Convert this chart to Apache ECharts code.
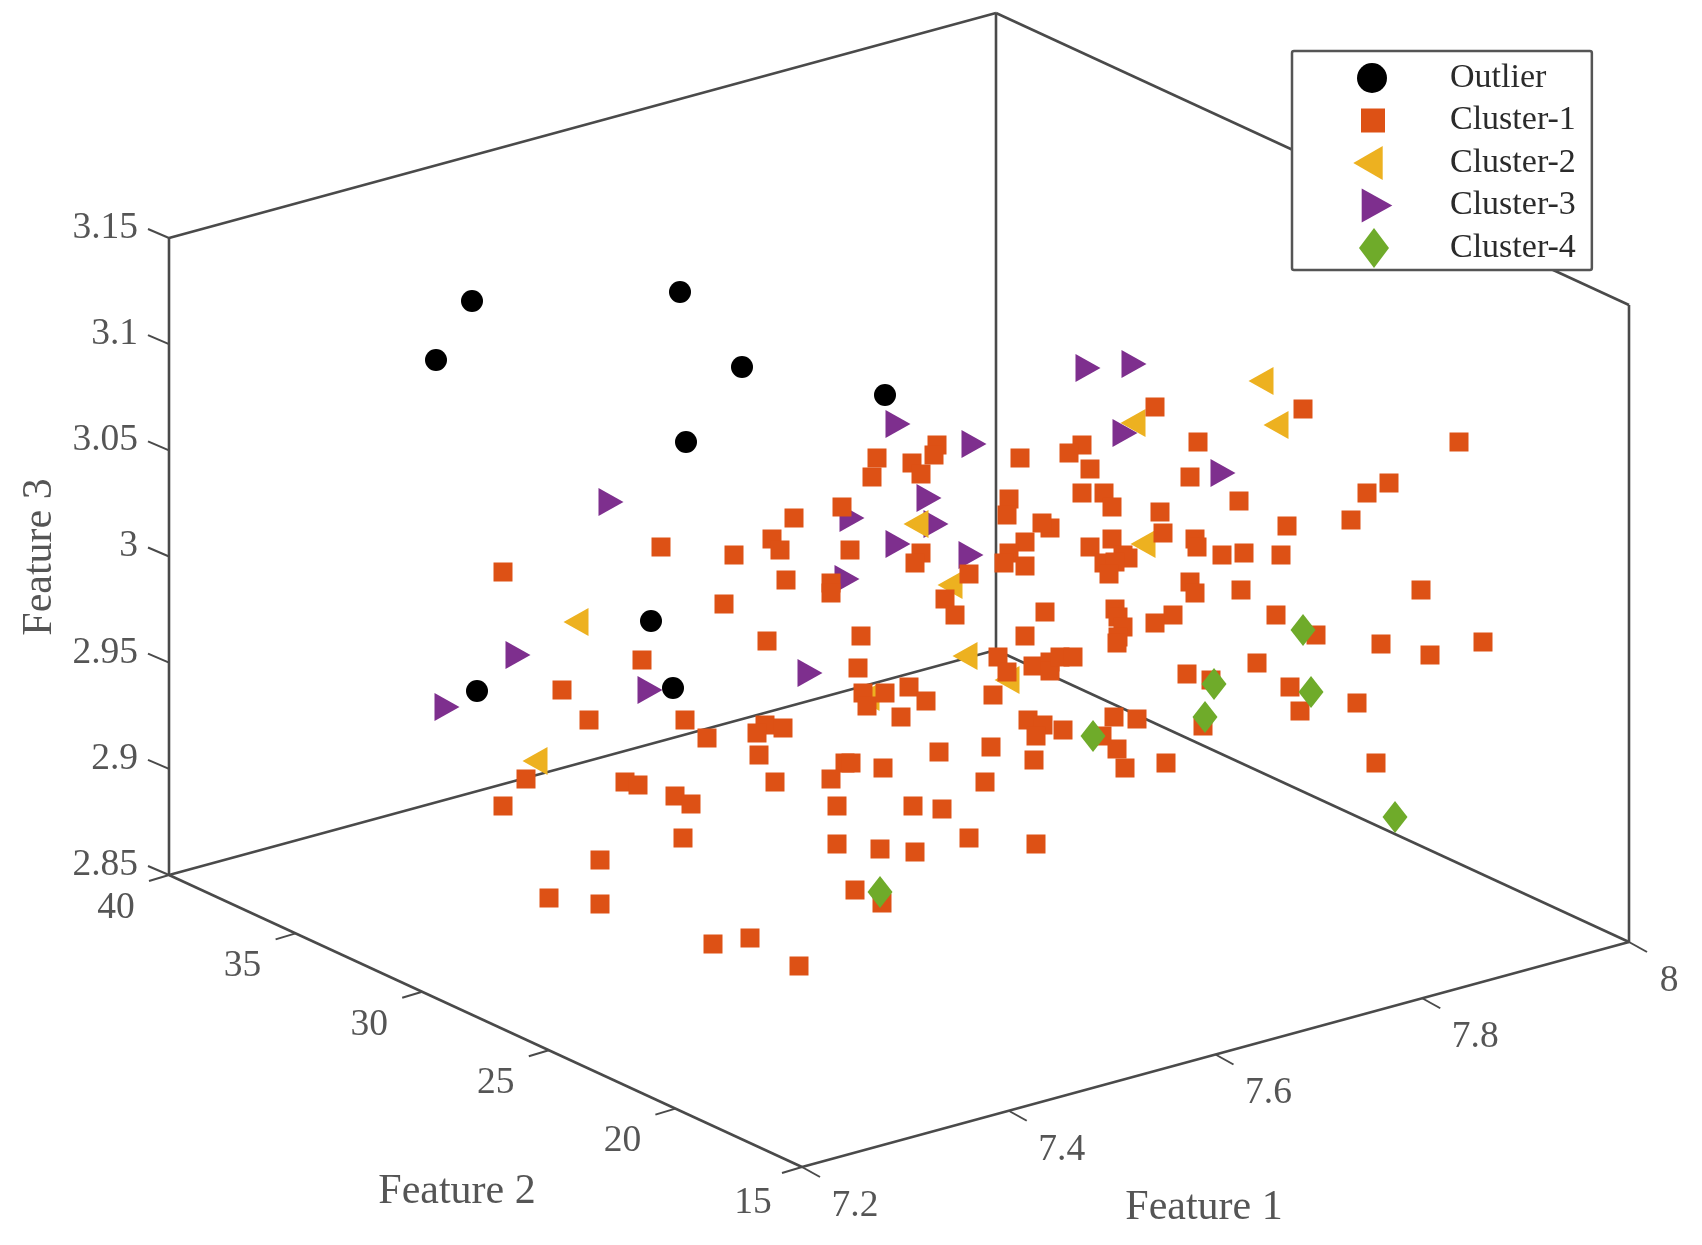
<!DOCTYPE html>
<html>
<head>
<meta charset="utf-8">
<title>3D cluster scatter</title>
<style>html,body{margin:0;padding:0;background:#fff}#chart{width:1702px;height:1245px}</style>
<script src="https://cdn.jsdelivr.net/npm/echarts@6/dist/echarts.min.js"></script>
</head>
<body>
<div id="chart"></div>
<script>
// The reference is an orthographic 3D view. Values below are the points' projected
// plane readings [horizontal, vertical], since depth cannot be recovered from a flat picture.
var outlierPoints = [[472,301],[680,292],[436,360],[742,367],[686,442],[885,395],[651,621],[477,691],[673,688]];
var cluster1Points = [
 [1155,407],[1303,409],[1459,442],[1198,442],[1389,483],[1367,493],[1190,477],[1239,501],[1351,520],[1287,526],
 [1020,458],[1082,445],[1069,453],[1090,469],[1082,493],[1104,493],[1112,507],[1160,512],[1163,533],[1050,528],
 [1042,523],[1112,539],[1090,547],[1195,539],[1197,547],[1222,555],[1244,553],[1281,555],[1123,555],[1128,558],
 [1104,563],[1115,562],[1109,574],[1190,582],[1195,593],[1241,590],[1276,615],[1173,615],[1155,623],[1115,609],
 [1118,617],[1123,627],[1118,637],[1045,612],[1316,635],[1421,590],[1381,644],[1430,655],[1483,642],[1257,663],
 [1187,674],[1211,680],[1290,687],[1300,711],[1357,703],[1203,726],[1376,763],
 [877,458],[872,477],[937,445],[934,455],[912,463],[921,474],[1009,499],[1007,515],[842,507],[794,518],[772,539],
 [780,550],[850,550],[921,553],[915,563],[786,580],[831,583],[831,593],[969,574],[945,599],[955,615],[1025,542],
 [1009,553],[1004,563],[1025,566],[767,641],[861,636],[1025,636],
 [858,668],[863,693],[867,706],[885,693],[909,687],[926,701],[901,717],[998,657],[1007,672],[993,695],[1033,666],
 [1050,662],[1050,671],[1060,657],[1073,657],[1117,643],[1028,720],[1043,725],[1036,736],[1063,730],[1114,717],
 [1137,719],[1102,736],[1117,749],[1125,768],[1166,763],
 [765,725],[783,728],[757,733],[759,755],[775,782],[845,763],[851,763],[831,779],[883,768],[939,752],[991,747],
 [1034,760],[985,782],[837,806],[913,806],[942,809],[837,844],[880,849],[915,852],[969,838],[1036,844],[855,890],[882,903],
 [661,547],[734,555],[503,572],[724,604],[642,660],[562,690],[589,720],[685,720],[707,738],[526,779],[503,806],
 [625,782],[638,785],[675,796],[691,804],[683,838],[600,860],[549,898],[600,904],[713,944],[750,938],[799,966]
];
var cluster2Points = [[1261,381],[1276,425],[1133,423],[916,524],[950,585],[1143,544],[576,622],[535,761],[965,656],[1007,680],[867,697]];
var cluster3Points = [[1088,368],[1134,364],[898,424],[974,444],[1125,433],[1223,473],[929,498],[852,518],[936,524],[898,544],[971,555],[847,579],[611,502],[518,655],[447,707],[650,690],[810,673]];
var cluster4Points = [[1303,630],[1214,684],[1311,692],[1205,717],[1093,736],[1395,817],[880,892]];

var feature1Ticks = [7.2,7.4,7.6,7.8,8];
var feature2Ticks = [40,35,30,25,20,15];
var feature3Ticks = [3.15,3.1,3.05,3,2.95,2.9,2.85];
var feature3TickText = ['3.15','3.1','3.05','3','2.95','2.9','2.85'];
var seriesNames = ['Outlier','Cluster-1','Cluster-2','Cluster-3','Cluster-4'];
var axisTitles = ['Feature 1','Feature 2','Feature 3'];

// ---- view ----
var F1 = [7.2,8], F2 = [15,40], F3 = [2.85,3.15];
function project(a,b,c){
  var u=(a-F1[0])/(F1[1]-F1[0]), v=(b-F2[0])/(F2[1]-F2[0]), w=(c-F3[0])/(F3[1]-F3[0]);
  return [802+827*u-633*v, 1167-225*u-292*v-637*w];
}
var INK='#4a4a4a', TEXT='#2b2b2b', SERIF='"Liberation Serif","Times New Roman",serif';
var frameEdges=[
 [[7.2,40,3.15],[8,40,3.15]],[[8,40,3.15],[8,15,3.15]],[[7.2,40,2.85],[7.2,40,3.15]],
 [[8,40,2.85],[8,40,3.15]],[[8,15,2.85],[8,15,3.15]],[[7.2,40,2.85],[8,40,2.85]],
 [[8,40,2.85],[8,15,2.85]],[[7.2,40,2.85],[7.2,15,2.85]],[[7.2,15,2.85],[8,15,2.85]]
];
function lineSeries(a,b,w){
  return {type:'line',silent:true,symbol:'none',z:1,animation:false,
    lineStyle:{color:INK,width:w},data:[a,b]};
}
var series=[];
frameEdges.forEach(function(e){series.push(lineSeries(project.apply(null,e[0]),project.apply(null,e[1]),2.6));});
function tickSet(values,toPoint,dx,dy){
  values.forEach(function(v){var p=toPoint(v);series.push(lineSeries(p,[p[0]+dx,p[1]+dy],2));});
}
tickSet(feature1Ticks,function(v){return project(v,15,2.85);},18,10);
tickSet(feature2Ticks,function(v){return project(7.2,v,2.85);},-20,6);
tickSet(feature3Ticks,function(v){return project(7.2,40,v);},-21,-9);

function textSeries(items,size,align,rotate){
  return {type:'scatter',silent:true,symbolSize:1,z:2,animation:false,itemStyle:{color:'rgba(0,0,0,0)'},
    data:items.map(function(t){return {value:t.p,label:{formatter:t.s}};}),
    label:{show:true,position:'inside',color:TEXT,fontFamily:SERIF,fontSize:size,align:align,verticalAlign:'middle',rotate:rotate||0}};
}
series.push(textSeries(feature1Ticks.map(function(v){var p=project(v,15,2.85);var dx=(v===8)?40:53;return {p:[p[0]+dx,p[1]+39],s:String(v)};}),37.5,'center'));
series.push(textSeries(feature2Ticks.map(function(v){var p=project(7.2,v,2.85);var dx=(v===15)?-49:-53;var dy=(v===15)?36:33;return {p:[p[0]+dx,p[1]+dy],s:String(v)};}),37.5,'center'));
series.push(textSeries(feature3Ticks.map(function(v,i){var p=project(7.2,40,v);return {p:[p[0]-31,p[1]-10],s:feature3TickText[i]};}),37.5,'right'));
series.push(textSeries([{p:[1204,1208],s:axisTitles[0]},{p:[457,1192],s:axisTitles[1]}],42,'center'));
series.push(textSeries([{p:[40,557],s:axisTitles[2]}],42,'center',90));

var leftTri='path://M24 0L24 27L0 13.5Z', rightTri='path://M0 0L24 13.5L0 27Z';
function pts(name,data,symbol,size,color,z){
  return {name:name,type:'scatter',data:data,symbol:symbol,symbolSize:size,symbolKeepAspect:false,z:z,
    animation:false,itemStyle:{color:color,opacity:1},emphasis:{disabled:true}};
}
series.push(pts(seriesNames[0],outlierPoints,'circle',22,'#000000',7));
series.push(pts(seriesNames[1],cluster1Points,'rect',19,'#DD5115',6));
series.push(pts(seriesNames[2],cluster2Points,leftTri,[25,28],'#EDB120',5));
series.push(pts(seriesNames[3],cluster3Points,rightTri,[25,28],'#7E2F8E',4));
series.push(pts(seriesNames[4],cluster4Points,'diamond',[25,32],'#6FAB2A',8));

var box='M0 0M144 40';
var legendIcons=[
 'path://'+box+'M56 20A15 15 0 1 1 86 20A15 15 0 1 1 56 20Z',
 'path://'+box+'M60 8L84 8L84 32L60 32Z',
 'path://'+box+'M81.7 3L81.7 37L52.3 20Z',
 'path://'+box+'M60.7 3L91.3 20L60.7 37Z',
 'path://'+box+'M73 0L88 20L73 40L58 20Z'
];
var option={
  backgroundColor:'#fff',animation:false,
  grid:{left:0,right:0,top:0,bottom:0},
  xAxis:{type:'value',min:0,max:1702,show:false},
  yAxis:{type:'value',min:0,max:1245,inverse:true,show:false},
  legend:{
    left:1292,top:51,orient:'vertical',selectedMode:false,z:20,
    itemWidth:144,itemHeight:40,itemGap:2.5,
    padding:[7,16,2,9],backgroundColor:'#fff',borderColor:'#555',borderWidth:2.5,borderRadius:2,
    textStyle:{color:TEXT,fontFamily:SERIF,fontSize:34,padding:[5,0,0,0]},
    data:seriesNames.map(function(n,i){return {name:n,icon:legendIcons[i]};})
  },
  tooltip:{show:false},
  series:series
};
echarts.init(document.getElementById('chart'),null,{renderer:'canvas'}).setOption(option);
</script>
</body>
</html>
